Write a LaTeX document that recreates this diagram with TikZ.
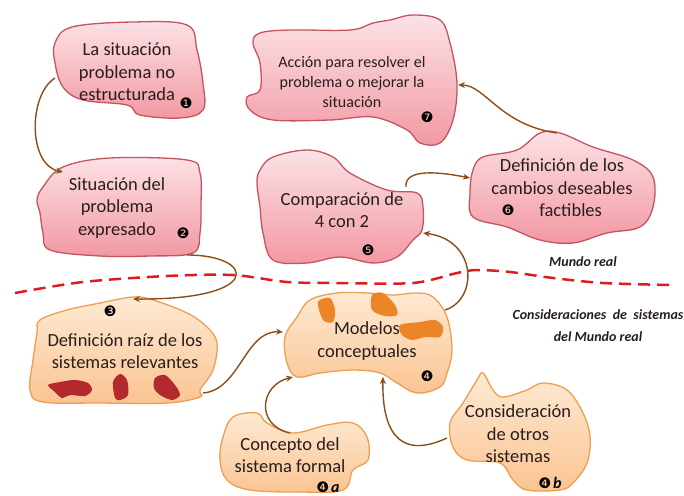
\documentclass[tikz,border=0pt]{standalone}
\usepackage{fontspec}
\setmainfont{Carlito}
\newfontfamily\dingfont{DejaVu Sans}
\usetikzlibrary{arrows.meta}
\definecolor{rosahell}{RGB}{252,226,230}
\definecolor{rosa}{RGB}{242,152,162}
\definecolor{rosarand}{RGB}{196,84,96}
\definecolor{orahell}{RGB}{254,234,212}
\definecolor{ora}{RGB}{250,196,146}
\definecolor{orarand}{RGB}{238,158,80}
\definecolor{oraform}{RGB}{236,132,40}
\definecolor{rotform}{RGB}{178,42,46}
\definecolor{braun}{RGB}{140,78,24}
\definecolor{linie}{RGB}{222,28,32}
\definecolor{schrift}{RGB}{40,30,30}
\newcommand{\nr}[1]{{\dingfont\fontsize{14.5}{14.5}\selectfont#1}}
\begin{document}
\begin{tikzpicture}[x=1pt,y=-1pt,
 wolke/.style={draw=rosarand,line width=1.3pt,top color=rosahell,bottom color=rosa},
 wolkeor/.style={draw=orarand,line width=1.3pt,top color=orahell,bottom color=ora},
 pfeil/.style={draw=braun,line width=1.4pt,-{Stealth[length=7pt,width=6pt]}},
 txt/.style={align=center,text=schrift,font=\fontsize{18.5}{22.5}\selectfont},
 klein/.style={align=center,text=schrift,font=\fontsize{16}{20}\selectfont},
 hinweis/.style={align=center,text=schrift,font=\fontsize{14}{22}\selectfont\bfseries\itshape}]
\useasboundingbox (0,0) rectangle (684,495);
%Wolken oben
\draw[wolke] plot[smooth cycle,tension=.6] coordinates {(72,27) (133,22) (187,25) (197,50) (203,83) (203,110) (180,118) (140,115) (127,105) (83,100) (63,87) (55,63) (55,43)};
\draw[wolke] plot[smooth cycle,tension=.6] coordinates {(63,167) (110,158) (187,160) (200,173) (201,205) (200,233) (193,253) (150,256) (100,256) (50,250) (43,233) (40,213) (37,200) (43,187)};
\draw[wolke] plot[smooth cycle,tension=.6] coordinates {(260,33) (290,30) (350,30) (373,23) (390,20) (413,15) (440,20) (450,43) (457,83) (453,120) (440,143) (420,143) (407,130) (373,117) (330,120) (273,120) (250,110) (247,97) (260,90) (260,63) (253,43)};
\draw[wolke] plot[smooth cycle,tension=.6] coordinates {(260,170) (273,157) (307,150) (333,157) (350,173) (387,190) (417,193) (423,207) (422,230) (413,240) (397,257) (373,263) (340,257) (307,263) (273,260) (263,233) (260,207) (257,183)};
\draw[wolke] plot[smooth cycle,tension=.6] coordinates {(473,170) (483,157) (517,150) (540,133) (560,133) (593,147) (633,160) (653,177) (653,207) (640,227) (607,233) (573,243) (540,240) (507,227) (473,217) (470,193)};
%Wolken unten
\draw[wolkeor] plot[smooth cycle,tension=.6] coordinates {(40,320) (67,310) (100,303) (133,297) (153,300) (187,313) (207,327) (217,343) (213,370) (200,390) (200,397) (167,403) (100,403) (43,402) (30,390) (33,360) (37,333)};
\draw[wolkeor] plot[smooth cycle,tension=.6] coordinates {(310,300) (337,293) (367,293) (393,295) (417,293) (433,297) (447,317) (452,350) (447,373) (440,387) (417,393) (397,383) (380,373) (353,370) (320,373) (297,377) (287,363) (285,337) (297,317)};
\draw[wolkeor] plot[smooth cycle,tension=.6] coordinates {(233,417) (257,413) (267,423) (293,433) (327,425) (353,423) (367,437) (368,460) (353,470) (343,490) (300,492) (250,490) (227,480) (220,460) (223,437)};
\draw[wolkeor] plot[smooth cycle,tension=.6] coordinates {(463,403) (477,380) (483,373) (493,390) (503,397) (527,390) (543,383) (567,390) (583,413) (590,437) (587,463) (573,483) (560,490) (527,490) (513,480) (500,463) (467,460) (453,447) (450,423)};
%Figuren
\fill[rotform] plot[smooth cycle] coordinates {(48,385) (60,382) (75,380) (88,383) (92,390) (85,396) (70,395) (62,398) (55,392)};
\fill[rotform] plot[smooth cycle] coordinates {(113,382) (120,374) (127,380) (128,395) (120,400) (115,398)};
\fill[rotform] plot[smooth cycle] coordinates {(155,378) (165,375) (175,385) (180,395) (172,400) (160,395) (154,388)};
\fill[oraform] plot[smooth cycle] coordinates {(318,302) (330,298) (335,310) (333,322) (323,320)};
\fill[oraform] plot[smooth cycle] coordinates {(372,295) (383,293) (395,305) (397,315) (385,316) (372,310)};
\fill[oraform] plot[smooth cycle] coordinates {(400,325) (420,322) (435,320) (443,327) (440,337) (425,337) (412,340) (402,335)};
%Grenze
\draw[linie,line width=2.5pt,dash pattern=on 12pt off 7pt] plot[smooth] coordinates {(15,293) (83,282) (167,276) (233,275) (287,282) (337,283) (413,283) (457,273) (477,270) (510,272) (553,278) (603,283) (670,285)};
%Beschriftung
\node[txt] (sit) at (127,72) {La situación\\problema no\\estructurada};
\node[txt] (exp) at (117,208) {Situación del\\problema\\expresado};
\node[klein] (acc) at (352,82) {Acción para resolver el\\problema o mejorar la\\situación};
\node[txt] (com) at (342,210) {Comparación de\\4 con 2};
\node[txt] (cam) at (562,188) {Definición de los\\cambios deseables\\\phantom{\nr{❻}}\ factibles};
\node[txt] (raiz) at (125,351) {Definición raíz de los\\sistemas relevantes};
\node[txt] (mod) at (367,341) {Modelos\\conceptuales};
\node[txt] (con) at (290,455) {Concepto del\\sistema formal};
\node[txt] (otr) at (518,434) {Consideración\\de otros\\sistemas};
\node[hinweis] (mr) at (583,262) {Mundo real};
\node[hinweis] (cs) at (598,326) {Consideraciones\ \ de\ \ sistemas\\del Mundo real};
%Nummern
\node (n1) at (186,103) {\nr{❶}};
\node (n2) at (183,233) {\nr{❷}};
\node (n3) at (110,311) {\nr{❸}};
\node (n4) at (427,376) {\nr{❹}};
\node (n5) at (368,250) {\nr{❺}};
\node (n6) at (508,210) {\nr{❻}};
\node (n7) at (427,117) {\nr{❼}};
\node (n4a) at (328,487) {\nr{❹}\,{\fontsize{16}{16}\selectfont\bfseries\itshape a}};
\node (n4b) at (550,483) {\nr{❹}\,{\fontsize{16}{16}\selectfont\bfseries\itshape b}};
%Pfeile
\coordinate (p1) at (55,78);
\coordinate (p2) at (63,172);
\coordinate (p3) at (187,255);
\coordinate (p4) at (133,299);
\coordinate (p5) at (203,393);
\coordinate (p6) at (283,332);
\coordinate (p7) at (290,433);
\coordinate (p8) at (293,377);
\coordinate (p9) at (447,438);
\coordinate (p10) at (383,377);
\coordinate (p11) at (445,310);
\coordinate (p12) at (423,233);
\coordinate (p13) at (406,187);
\coordinate (p14) at (470,178);
\coordinate (p15) at (557,133);
\coordinate (p16) at (458,85);
\draw[pfeil] (p1) .. controls (28,95) and (28,165) .. (p2);
\draw[pfeil] (p3) .. controls (255,255) and (265,300) .. (p4);
\draw[pfeil] (p5) .. controls (240,390) and (245,330) .. (p6);
\draw[pfeil] (p7) .. controls (255,425) and (260,385) .. (p8);
\draw[pfeil] (p9) .. controls (395,462) and (382,425) .. (p10);
\draw[pfeil] (p11) .. controls (478,300) and (478,240) .. (p12);
\draw[pfeil] (p13) .. controls (404,168) and (440,172) .. (p14);
\draw[pfeil] (p15) .. controls (500,125) and (485,85) .. (p16);
\end{tikzpicture}
\end{document}
